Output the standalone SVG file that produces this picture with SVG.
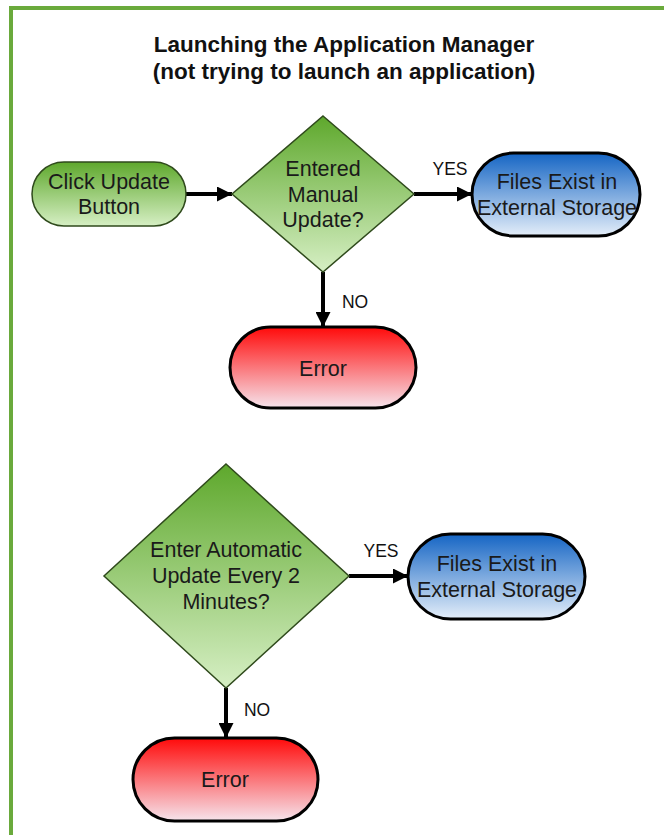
<svg xmlns="http://www.w3.org/2000/svg" width="664" height="835" viewBox="0 0 664 835">
  <style>
    .lbl { font-family: "Liberation Sans", Arial, sans-serif; font-size: 21.5px; fill: #1a1a1a; text-anchor: middle; }
    .title { font-family: "Liberation Sans", Arial, sans-serif; font-size: 22.5px; font-weight: bold; fill: #111; text-anchor: middle; }
    .edge-lbl { font-family: "Liberation Sans", Arial, sans-serif; font-size: 17.5px; fill: #111; text-anchor: middle; }
    .conn { stroke: #000; stroke-width: 4; fill: none; marker-end: url(#arrow); }
    .green { fill: url(#gGreen); stroke: #2f4a1c; stroke-width: 1.5; }
    .blue { fill: url(#gBlue); stroke: #000; stroke-width: 3; }
    .red { fill: url(#gRed); stroke: #000; stroke-width: 3; }
  </style>
  <defs>
    <linearGradient id="gGreen" x1="0" y1="0" x2="0" y2="1">
      <stop offset="0" stop-color="#5ea82c"/>
      <stop offset="1" stop-color="#d6efc4"/>
    </linearGradient>
    <linearGradient id="gBlue" x1="0" y1="0" x2="0" y2="1">
      <stop offset="0" stop-color="#1565c4"/>
      <stop offset="1" stop-color="#e4eef9"/>
    </linearGradient>
    <linearGradient id="gRed" x1="0" y1="0" x2="0" y2="1">
      <stop offset="0" stop-color="#ff0a0a"/>
      <stop offset="1" stop-color="#f6e4ec"/>
    </linearGradient>
    <marker id="arrow" viewBox="0 0 10 10" refX="10" refY="5" markerWidth="15" markerHeight="15" markerUnits="userSpaceOnUse" orient="auto">
      <path d="M0,0 L10,5 L0,10 Z" fill="#000"/>
    </marker>
  </defs>

  <!-- page background and green frame -->
  <rect x="0" y="0" width="664" height="835" fill="#fff"/>
  <rect x="11" y="8" width="720" height="900" fill="none" stroke="#6aaa3c" stroke-width="4"/>

  <!-- heading -->
  <text class="title" x="344" y="52">Launching the Application Manager</text>
  <text class="title" x="344" y="79">(not trying to launch an application)</text>

  <!-- connectors -->
  <g id="connectors">
    <line class="conn" x1="186" y1="194" x2="232" y2="194"/>
    <line class="conn" x1="414" y1="194" x2="472" y2="194"/>
    <line class="conn" x1="323" y1="272" x2="323" y2="327"/>
    <line class="conn" x1="349" y1="576" x2="408" y2="576"/>
    <line class="conn" x1="226" y1="688" x2="226" y2="738"/>
    <text class="edge-lbl" x="450" y="175">YES</text>
    <text class="edge-lbl" x="355" y="308">NO</text>
    <text class="edge-lbl" x="381" y="557">YES</text>
    <text class="edge-lbl" x="257" y="716">NO</text>
  </g>

  <!-- first flow -->
  <g id="click-update">
    <rect class="green" x="32" y="162" width="154" height="64" rx="32" ry="32"/>
    <text class="lbl" x="109" y="188.5">Click Update</text>
    <text class="lbl" x="109" y="213.5">Button</text>
  </g>

  <g id="manual-update">
    <polygon class="green" points="323,116 414,194 323,272 232,194"/>
    <text class="lbl" x="323" y="175.5">Entered</text>
    <text class="lbl" x="323" y="201.5">Manual</text>
    <text class="lbl" x="323" y="227">Update?</text>
  </g>

  <g id="files-exist-1">
    <rect class="blue" x="472" y="153" width="168" height="83" rx="41.5" ry="41.5"/>
    <text class="lbl" x="557" y="188.5">Files Exist in</text>
    <text class="lbl" x="557" y="214.5">External Storage</text>
  </g>

  <g id="error-1">
    <rect class="red" x="230" y="327" width="186" height="81" rx="40.5" ry="40.5"/>
    <text class="lbl" x="323" y="375.5">Error</text>
  </g>

  <!-- second flow -->
  <g id="auto-update">
    <polygon class="green" points="226,464 349,576 226,688 104,576"/>
    <text class="lbl" x="226" y="556.5">Enter Automatic</text>
    <text class="lbl" x="226" y="582.5">Update Every 2</text>
    <text class="lbl" x="226" y="608.5">Minutes?</text>
  </g>

  <g id="files-exist-2">
    <rect class="blue" x="408" y="534" width="177" height="85" rx="42.5" ry="42.5"/>
    <text class="lbl" x="497" y="570.5">Files Exist in</text>
    <text class="lbl" x="497" y="596.5">External Storage</text>
  </g>

  <g id="error-2">
    <rect class="red" x="133" y="738" width="185" height="83" rx="41.5" ry="41.5"/>
    <text class="lbl" x="225" y="786.5">Error</text>
  </g>
</svg>
